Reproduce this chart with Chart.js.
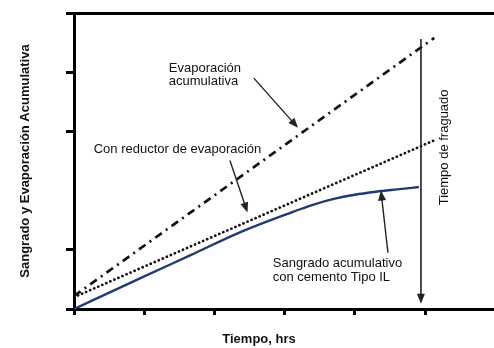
<!DOCTYPE html>
<html>
<head>
<meta charset="utf-8">
<script src="https://cdn.jsdelivr.net/npm/chart.js@4"></script>
<style>
  html, body { margin: 0; padding: 0; background: #fff; }
  #wrap { width: 494px; height: 348px; }
</style>
</head>
<body>
<div id="wrap"><canvas id="chart" width="494" height="348"></canvas></div>
<script>
// Data (x = hours, y = relative amount)
const evapX = [0, 5.13];
const evapY = [0.22, 4.58];
const reductorX = [0, 5.15];
const reductorY = [0.2, 2.86];
const sangradoX = [0, 1, 1.66, 2.37, 3.09, 3.4, 3.7, 4.0, 4.3, 4.6, 4.91];
const sangradoY = [0, 0.55, 0.91, 1.3, 1.63, 1.76, 1.86, 1.93, 1.98, 2.02, 2.06];
const xTicks = [0, 1, 2, 3, 4, 5];
const yTicks = [0, 1, 3, 4, 5];
const fraguadoX = 4.94;

const toPoints = (xs, ys) => xs.map((v, i) => ({ x: v, y: ys[i] }));

// Arrow helper
const arrow = (ctx, x1, y1, x2, y2, head) => {
  const ang = Math.atan2(y2 - y1, x2 - x1);
  ctx.beginPath();
  ctx.moveTo(x1, y1);
  ctx.lineTo(x2 - Math.cos(ang) * head * 0.6, y2 - Math.sin(ang) * head * 0.6);
  ctx.stroke();
  ctx.beginPath();
  ctx.moveTo(x2, y2);
  ctx.lineTo(x2 - head * Math.cos(ang) + 4 * Math.sin(ang), y2 - head * Math.sin(ang) - 4 * Math.cos(ang));
  ctx.lineTo(x2 - head * Math.cos(ang) - 4 * Math.sin(ang), y2 - head * Math.sin(ang) + 4 * Math.cos(ang));
  ctx.closePath();
  ctx.fill();
};

// Labels, arrows and axis titles
const notes = {
  id: 'notes',
  afterDraw(chart) {
    const { ctx, chartArea: a, scales: { x, y } } = chart;
    ctx.save();
    ctx.setLineDash([]);
    ctx.lineCap = 'butt';

    // setting time line
    ctx.strokeStyle = '#222';
    ctx.fillStyle = '#222';
    ctx.lineWidth = 1.6;
    arrow(ctx, x.getPixelForValue(fraguadoX), y.getPixelForValue(4.56),
      x.getPixelForValue(fraguadoX), y.getPixelForValue(0.09), 10);

    // pointer arrows
    ctx.lineWidth = 1.4;
    arrow(ctx, x.getPixelForValue(2.56), y.getPixelForValue(3.9),
      x.getPixelForValue(3.19), y.getPixelForValue(3.06), 10);
    arrow(ctx, x.getPixelForValue(2.22), y.getPixelForValue(2.51),
      x.getPixelForValue(2.47), y.getPixelForValue(1.63), 10);
    arrow(ctx, x.getPixelForValue(4.47), y.getPixelForValue(0.95),
      x.getPixelForValue(4.37), y.getPixelForValue(2.0), 10);

    // annotation texts
    ctx.fillStyle = '#111';
    ctx.font = '13px "Liberation Sans", Arial, sans-serif';
    ctx.textAlign = 'left';
    ctx.textBaseline = 'middle';
    let px = x.getPixelForValue(1.35), py = y.getPixelForValue(4.07);
    ctx.fillText('Evaporación', px, py);
    ctx.fillText('acumulativa', px, py + 13);
    ctx.fillText('Con reductor de evaporación', x.getPixelForValue(0.28), y.getPixelForValue(2.7));
    px = x.getPixelForValue(2.83); py = y.getPixelForValue(0.77);
    ctx.fillText('Sangrado acumulativo', px, py);
    ctx.fillText('con cemento Tipo IL', px, py + 14);

    ctx.save();
    ctx.translate(x.getPixelForValue(5.27), y.getPixelForValue(2.73));
    ctx.rotate(-Math.PI / 2);
    ctx.textAlign = 'center';
    ctx.fillText('Tiempo de fraguado', 0, 0);
    ctx.restore();

    // axis titles
    ctx.font = 'bold 13px "Liberation Sans", Arial, sans-serif';
    ctx.textAlign = 'center';
    ctx.fillText('Tiempo, hrs', 259, 339);
    ctx.save();
    ctx.translate(25, (a.top + a.bottom) / 2);
    ctx.rotate(-Math.PI / 2);
    ctx.fillText('Sangrado y Evaporación Acumulativa', 0, 0);
    ctx.restore();

    ctx.restore();
  }
};

const ctx = document.getElementById('chart').getContext('2d');
const chart = new Chart(ctx, {
  type: 'line',
  data: {
    datasets: [
      {
        label: 'Evaporación acumulativa',
        data: toPoints(evapX, evapY),
        borderColor: '#111',
        borderWidth: 2.7,
        borderDash: [8, 5, 2, 5],
        pointRadius: 0
      },
      {
        label: 'Con reductor de evaporación',
        data: toPoints(reductorX, reductorY),
        borderColor: '#111',
        borderWidth: 2.7,
        borderDash: [0.1, 4.3],
        borderCapStyle: 'round',
        pointRadius: 0
      },
      {
        label: 'Sangrado acumulativo con cemento Tipo IL',
        data: toPoints(sangradoX, sangradoY),
        borderColor: '#1f3a74',
        borderWidth: 2.4,
        cubicInterpolationMode: 'monotone',
        pointRadius: 0
      }
    ]
  },
  options: {
    responsive: false,
    animation: false,
    layout: { padding: 0 },
    plugins: { legend: { display: false }, tooltip: { enabled: false } },
    scales: {
      x: {
        type: 'linear',
        min: 0,
        max: 5.98,
        afterBuildTicks: s => { s.ticks = xTicks.map(v => ({ value: v })); },
        afterFit: s => { s.height = 39; },
        ticks: { display: false },
        grid: { drawOnChartArea: false, tickLength: 6, tickWidth: 3, tickColor: '#000' },
        border: { color: '#000', width: 3 }
      },
      // top frame line
      xTop: {
        type: 'linear',
        position: 'top',
        min: 0,
        max: 5.98,
        afterBuildTicks: s => { s.ticks = []; },
        afterFit: s => { s.height = 13; },
        ticks: { display: false },
        grid: { display: false, drawTicks: false },
        border: { display: true, color: '#000', width: 3 }
      },
      y: {
        type: 'linear',
        min: 0,
        max: 5,
        afterBuildTicks: s => { s.ticks = yTicks.map(v => ({ value: v })); },
        afterFit: s => { s.width = 74; },
        ticks: { display: false },
        grid: { drawOnChartArea: false, tickLength: 8, tickWidth: 3, tickColor: '#000' },
        border: { color: '#000', width: 3 }
      }
    }
  },
  plugins: [notes]
});
</script>
</body>
</html>
